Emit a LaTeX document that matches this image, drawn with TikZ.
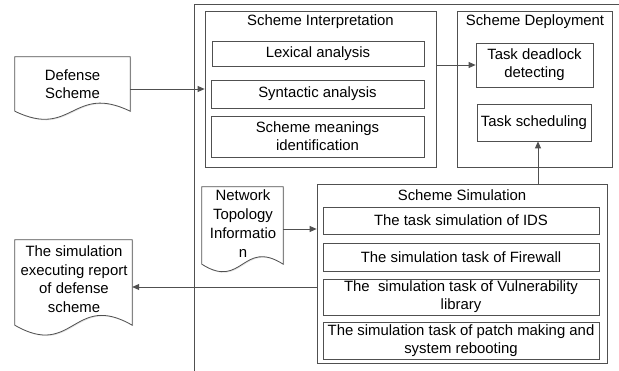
\documentclass[tikz,border=0pt]{standalone}
\usepackage{fontspec}
\setmainfont{Liberation Sans}
\usetikzlibrary{shadows,arrows.meta}
\definecolor{lc}{HTML}{505050}
\tikzset{
  base/.style={draw=lc, line width=0.8pt, fill=white, inner sep=0pt, align=center,
    font=\fontsize{14.9}{18}\selectfont,
    drop shadow={shadow xshift=1pt, shadow yshift=-1pt, fill=black!18, opacity=0.6}},
  doc/.style={draw=none, inner sep=0pt, align=center, font=\fontsize{14.9}{18.5}\selectfont},
  docline/.style={draw=lc, line width=0.8pt, fill=white,
    drop shadow={shadow xshift=1pt, shadow yshift=-1pt, fill=black!18, opacity=0.6}},
  arr/.style={draw=lc, line width=0.8pt, -{Triangle[length=7pt,width=6pt]}},
  ttl/.style={inner sep=0pt, font=\fontsize{14.9}{18}\selectfont}
}
\newcommand{\docoutline}[2]{%
  \path[docline] (#1.south west) -- (#1.north west) -- (#1.north east) -- (#1.south east)
    .. controls ([yshift=#2]#1.south) and ([yshift=-#2]#1.south) .. (#1.south west) -- cycle;}
\begin{document}
\begin{tikzpicture}[x=1pt,y=-1pt]
\useasboundingbox[fill=white] (0,0) rectangle (619,371);
% outer frame
\path[docline, fill=white] (194,4) rectangle (640,390);
% Scheme Interpretation
\node[base, minimum width=231pt, minimum height=156pt] (interp) at (320.5,89) {};
\node[ttl] (interpt) at (320.5,22) {Scheme Interpretation};
\node[base, minimum width=212pt, minimum height=25pt] (lex) at (318,53.5) {Lexical analysis};
\node[base, minimum width=213pt, minimum height=28pt] (syn) at (317.5,94) {Syntactic analysis};
\node[base, minimum width=213pt, minimum height=41pt] (mean) at (317.5,136.5) {Scheme meanings\\identification};
% Scheme Deployment
\node[base, minimum width=155pt, minimum height=156pt] (deploy) at (534.5,89) {};
\node[ttl] (deployt) at (535,22) {Scheme Deployment};
\node[base, minimum width=117pt, minimum height=44pt] (dead) at (534.5,65) {Task deadlock\\detecting};
\node[base, minimum width=114pt, minimum height=37pt] (sched) at (534,122.5) {Task scheduling};
% Scheme Simulation
\node[base, minimum width=290pt, minimum height=179pt] (sim) at (462,273.5) {};
\node[ttl] (simt) at (462,195) {Scheme Simulation};
\node[base, minimum width=276pt, minimum height=27pt] (ids) at (461,220.5) {The task simulation of IDS};
\node[base, minimum width=276pt, minimum height=28pt] (fire) at (461,257) {The simulation task of Firewall};
\node[base, minimum width=276pt, minimum height=36pt] (vul) at (461,297) {The\ \ simulation task of Vulnerability\\library};
\node[base, minimum width=276pt, minimum height=37pt] (patch) at (461,340.5) {The simulation task of patch making and\\system rebooting};
% documents
\node[doc, minimum width=115pt, minimum height=54pt] (def) at (72.5,84) {};
\docoutline{def}{28pt}
\node[doc] (deft) at (def.center) {Defense\\Scheme};
\node[doc, minimum width=81pt, minimum height=77pt] (net) at (242.5,225.5) {};
\docoutline{net}{26pt}
\node[doc, font=\fontsize{14.9}{19}\selectfont] (nett) at (243,223.5) {Network\\Topology\\Informatio\\n};
\node[doc, minimum width=117pt, minimum height=85pt] (rep) at (73.5,282.5) {};
\docoutline{rep}{34pt}
\node[doc] (rept) at (74,279) {The simulation\\executing report\\of defense\\scheme};
% connectors
\draw[arr] ([yshift=-5pt]def.east) -- ([yshift=-5pt]def.east -| interp.west);
\draw[arr] (dead.west -| interp.east) -- (dead.west);
\draw[arr] ([xshift=4pt]sched.south |- sim.north) -- ([xshift=4pt]sched.south);
\draw[arr] ([yshift=-3.5pt]net.east) -- ([yshift=-3.5pt]net.east -| sim.west);
\draw[arr] ([yshift=-4.5pt]rep.east -| sim.west) -- ([yshift=-4.5pt]rep.east);
\end{tikzpicture}
\end{document}
